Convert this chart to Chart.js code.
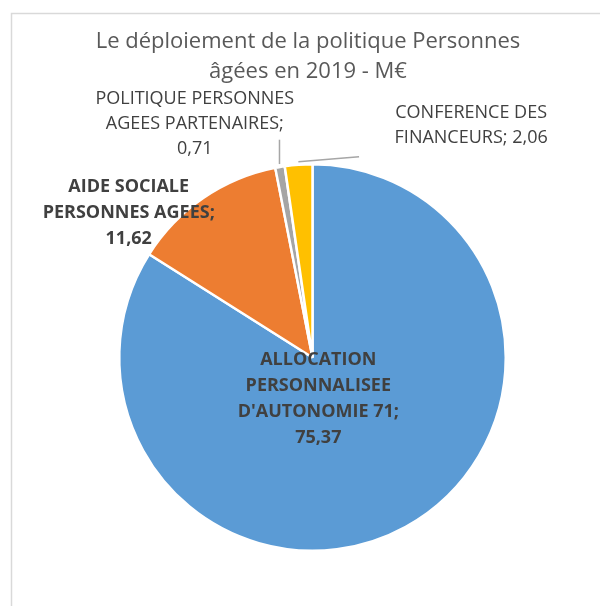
<!DOCTYPE html>
<html>
<head>
<meta charset="utf-8">
<script src="https://cdn.jsdelivr.net/npm/chart.js@4.4.1/dist/chart.umd.min.js"></script>
<style>
  html, body { margin: 0; padding: 0; background: #fff; }
  #myChart { display: block; }
</style>
</head>
<body>
<canvas id="myChart" width="600" height="606"></canvas>
<script>
'use strict';
const titleLines = ['Le déploiement de la politique Personnes', 'âgées en 2019 - M€'];
const categories = [
    'ALLOCATION\nPERSONNALISEE\nD\'AUTONOMIE 71',
    'AIDE SOCIALE\nPERSONNES AGEES',
    'POLITIQUE PERSONNES\nAGEES PARTENAIRES',
    'CONFERENCE DES\nFINANCEURS'
];
const values = [75.37, 11.62, 0.71, 2.06];
const colors = ['#5B9BD5', '#ED7D31', '#A5A5A5', '#FFC000'];

// label placement, in units of the pie radius from its centre
const labelSetup = [
    { dx: 0.03, dy: 0.215, bold: true, sameLine: false, leader: null },
    { dx: -0.951, dy: -0.749, bold: true, sameLine: false, leader: null },
    { dx: -0.609, dy: -1.21, bold: false, sameLine: false, leader: { x: -0.165, y: -1.127, vertical: true } },
    { dx: 0.821, dy: -1.199, bold: false, sameLine: true, leader: { x: 0.241, y: -1.039 } }
];

function formatValue(v) {
    return v.toFixed(2).replace('.', ',');
}

function labelLines(i) {
    const lines = categories[i].split('\n');
    const last = lines.length - 1;
    if (labelSetup[i].sameLine) {
        lines[last] = lines[last] + '; ' + formatValue(values[i]);
    } else {
        lines[last] = lines[last] + ';';
        lines.push(formatValue(values[i]));
    }
    return lines;
}

const pieDecor = {
    id: 'pieDecor',
    beforeDraw: function (chart) {
        const ctx = chart.ctx;
        ctx.save();
        ctx.strokeStyle = '#D9D9D9';
        ctx.lineWidth = 1.5;
        ctx.strokeRect(11.5, 13.5, 700, 700);
        ctx.restore();
    },
    afterDraw: function (chart) {
        const ctx = chart.ctx;
        const arcs = chart.getDatasetMeta(0).data;
        const cx = arcs[0].x;
        const cy = arcs[0].y;
        const r = arcs[0].outerRadius;
        ctx.save();

        // title
        ctx.fillStyle = '#595959';
        ctx.font = '22px "Open Sans"';
        ctx.textAlign = 'center';
        ctx.textBaseline = 'middle';
        for (let i = 0; i < titleLines.length; i++) {
            ctx.fillText(titleLines[i], 308, 42 + i * 30);
        }

        // leader lines
        ctx.strokeStyle = '#A6A6A6';
        ctx.lineWidth = 1.5;
        for (let i = 0; i < arcs.length; i++) {
            const lead = labelSetup[i].leader;
            if (!lead) {
                continue;
            }
            const a = (arcs[i].startAngle + arcs[i].endAngle) / 2;
            const sx = cx + Math.cos(a) * (r + 3);
            const sy = cy + Math.sin(a) * (r + 3);
            const ex = lead.vertical ? sx : cx + lead.x * r;
            const ey = cy + lead.y * r;
            ctx.beginPath();
            ctx.moveTo(sx, sy);
            ctx.lineTo(ex, ey);
            ctx.stroke();
        }

        // data labels
        ctx.fillStyle = '#404040';
        for (let i = 0; i < arcs.length; i++) {
            const lines = labelLines(i);
            const lx = cx + labelSetup[i].dx * r;
            const ly = cy + labelSetup[i].dy * r;
            const lh = labelSetup[i].bold ? 26 : 25;
            ctx.font = (labelSetup[i].bold ? 'bold ' : '') + '18px "Open Sans"';
            const top = ly - (lines.length - 1) * lh / 2;
            for (let j = 0; j < lines.length; j++) {
                ctx.fillText(lines[j], lx, top + j * lh);
            }
        }
        ctx.restore();
    }
};

const chart = new Chart(document.getElementById('myChart'), {
    type: 'pie',
    data: {
        labels: categories,
        datasets: [{
            data: values,
            backgroundColor: colors,
            borderColor: '#ffffff',
            borderWidth: 2.5
        }]
    },
    options: {
        responsive: false,
        devicePixelRatio: 1,
        animation: false,
        layout: {
            padding: { top: 163, bottom: 54, left: 118, right: 93 }
        },
        plugins: {
            legend: { display: false },
            tooltip: { enabled: false },
            title: { display: false }
        }
    },
    plugins: [pieDecor]
});
</script>
</body>
</html>
